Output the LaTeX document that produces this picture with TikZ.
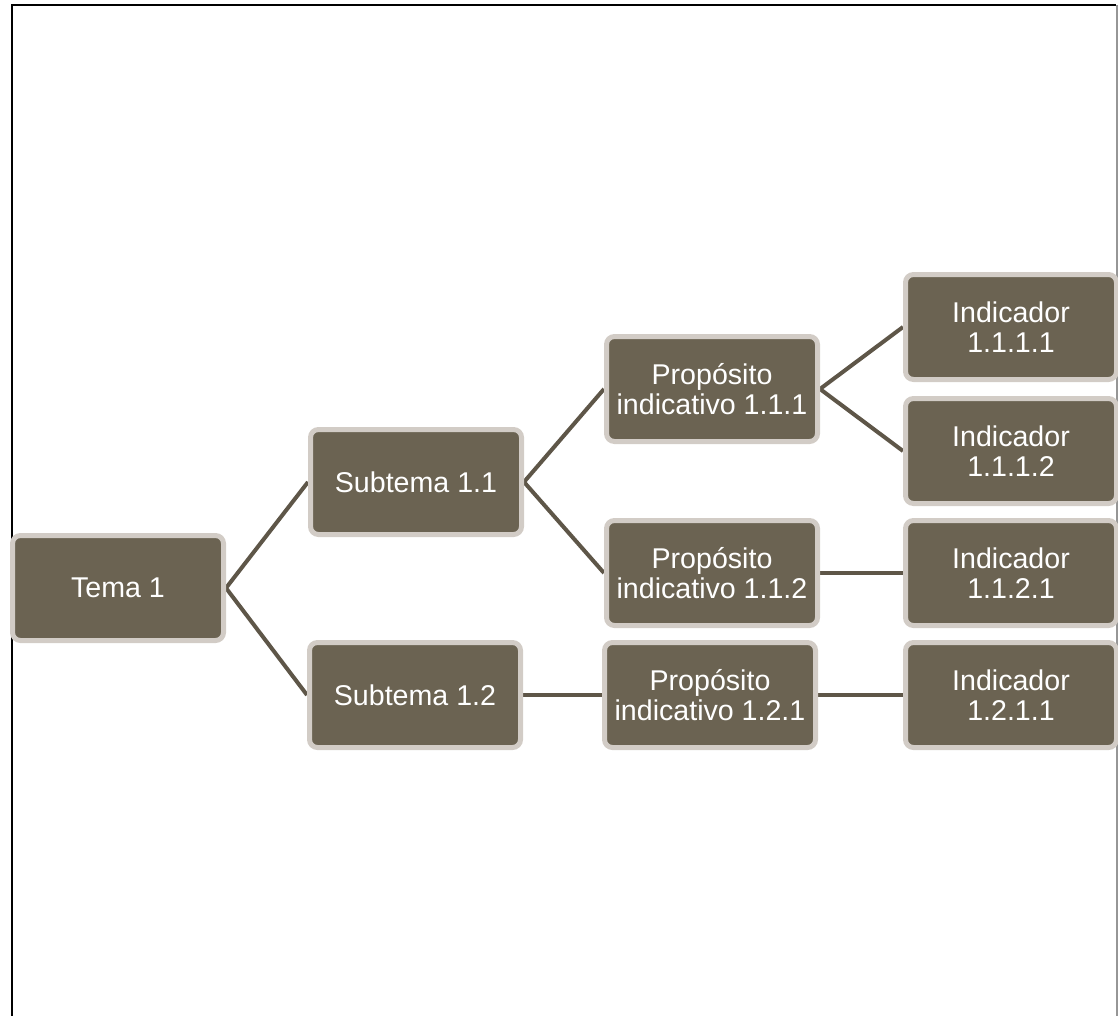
\documentclass[tikz,border=0pt]{standalone}
\usepackage{fontspec}
\setmainfont{Liberation Sans}
\usetikzlibrary{backgrounds}
\definecolor{boxfill}{RGB}{107,99,82}
\definecolor{boxrim}{RGB}{210,204,198}
\definecolor{linkc}{RGB}{94,86,72}
\definecolor{framegray}{RGB}{150,150,150}
\begin{document}
\begin{tikzpicture}[x=1pt,y=-1pt,
  item/.style={rectangle, rounded corners=8pt, fill=boxfill, draw=boxrim, line width=5pt,
    minimum width=211pt, minimum height=105pt, inner sep=0pt, text=white, align=center,
    font=\fontsize{28.6}{30}\selectfont},
  link/.style={draw=linkc, line width=4pt}]
\useasboundingbox (0,0) rectangle (1118,1016);
\draw[line width=2pt, black] (12,1016) -- (12,5) -- (1116,5);
\draw[line width=1.5pt, framegray] (1117,5) -- (1117,1016);

\node[item] (t1) at (118,588) {Tema 1};
\node[item] (s11) at (416,482) {Subtema 1.1};
\node[item] (s12) at (415,695) {Subtema 1.2};
\node[item] (p111) at (712,389) {Propósito\\indicativo 1.1.1};
\node[item] (p112) at (712,573) {Propósito\\indicativo 1.1.2};
\node[item] (p121) at (710,695) {Propósito\\indicativo 1.2.1};
\node[item] (i1111) at (1011,327) {Indicador\\1.1.1.1};
\node[item] (i1112) at (1011,451) {Indicador\\1.1.1.2};
\node[item] (i1121) at (1011,573) {Indicador\\1.1.2.1};
\node[item] (i1211) at (1011,695) {Indicador\\1.2.1.1};

\begin{scope}[on background layer]
\draw[link] (t1.east) -- (s11.west);
\draw[link] (t1.east) -- (s12.west);
\draw[link] (s11.east) -- (p111.west);
\draw[link] (s11.east) -- (p112.west);
\draw[link] (s12.east) -- (p121.west);
\draw[link] (p111.east) -- (i1111.west);
\draw[link] (p111.east) -- (i1112.west);
\draw[link] (p112.east) -- (i1121.west);
\draw[link] (p121.east) -- (i1211.west);
\end{scope}
\end{tikzpicture}
\end{document}
